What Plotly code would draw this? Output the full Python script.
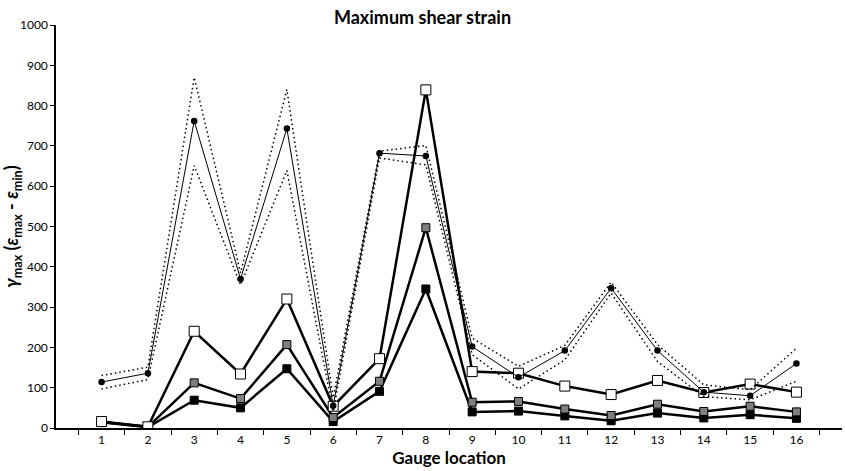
import plotly.graph_objects as go

gauges = [str(i) for i in range(1, 17)]

mean_vals = [114, 136, 762, 370, 743, 55, 682, 675, 202, 126, 192, 347, 192, 89, 80, 160]
upper_vals = [130, 151, 870, 385, 840, 75, 687, 701, 223, 153, 205, 362, 207, 107, 95, 198]
lower_vals = [97, 120, 651, 355, 639, 40, 670, 653, 182, 97, 169, 335, 165, 78, 70, 116]

open_sq = [16, 3, 240, 134, 320, 54, 172, 839, 140, 136, 104, 83, 118, 88, 109, 89]
gray_sq = [15, 3, 112, 73, 207, 26, 116, 497, 64, 66, 47, 31, 59, 41, 54, 40]
black_sq = [14, 2, 69, 50, 147, 16, 91, 345, 40, 42, 30, 18, 37, 25, 33, 24]

fig = go.Figure()

for vals, fill, sz in [(black_sq, "black", 8), (gray_sq, "#7f7f7f", 8), (open_sq, "white", 10)]:
    fig.add_trace(go.Scatter(
        x=gauges, y=vals, mode="lines+markers",
        line=dict(color="black", width=2.5),
        marker=dict(symbol="square", size=sz, color=fill, line=dict(color="black", width=1)),
        showlegend=False))

for vals in [upper_vals, lower_vals]:
    fig.add_trace(go.Scatter(
        x=gauges, y=vals, mode="lines",
        line=dict(color="black", width=1.5, dash="1.5px,3px"),
        showlegend=False))

fig.add_trace(go.Scatter(
    x=gauges, y=mean_vals, mode="lines+markers",
    line=dict(color="black", width=1),
    marker=dict(symbol="circle", size=6.5, color="black"),
    showlegend=False))

font_family = "Lato, 'Open Sans', sans-serif"

fig.update_layout(
    width=845, height=471,
    margin=dict(l=56, r=3, t=25, b=43),
    paper_bgcolor="white", plot_bgcolor="white",
    font=dict(family=font_family, size=12, color="black"),
    title=dict(text="<b>Maximum shear strain</b>", x=0.5, xanchor="center",
               y=0.962, yanchor="middle", font=dict(size=18, color="black")),
    xaxis=dict(
        type="category", showline=True, linecolor="black", linewidth=1.5,
        ticks="outside", tickson="boundaries", ticklen=5, tickcolor="black",
        showgrid=False, zeroline=False, tickfont=dict(size=12),
        title=dict(text="<b>Gauge location</b>", font=dict(size=17), standoff=2),
    ),
    yaxis=dict(
        range=[0, 1000], dtick=100, showline=True, linecolor="black", linewidth=1.5,
        ticks="outside", ticklen=4, tickcolor="black", showgrid=False, zeroline=False,
        tickfont=dict(size=12),
        title=dict(text="<b><i>γ</i><sub>max</sub> (<i>ε</i><sub>max</sub> - <i>ε</i><sub>min</sub>)</b>",
                   font=dict(size=18), standoff=2),
    ),
)

fig.write_html("out.html")
